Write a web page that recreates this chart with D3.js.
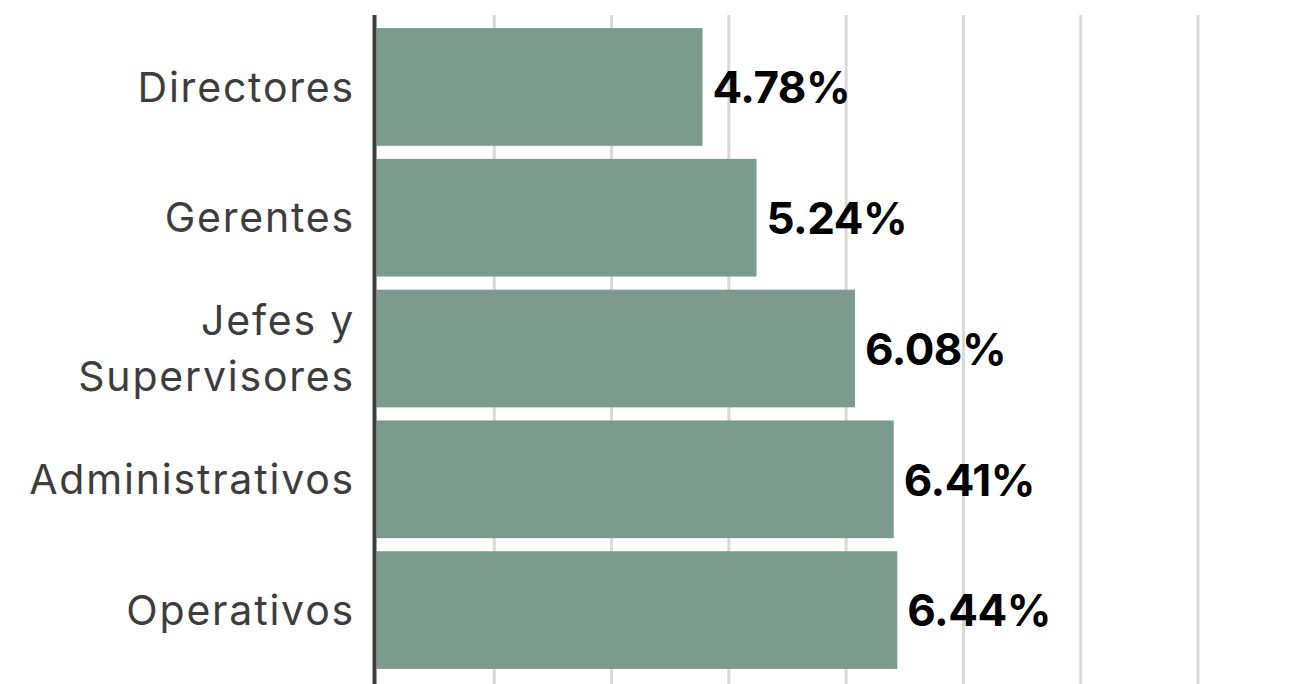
<!DOCTYPE html>
<html>
<head>
<meta charset="utf-8">
<script src="https://cdn.jsdelivr.net/npm/d3@7"></script>
<style>
  html, body { margin: 0; padding: 0; background: #ffffff; }
  svg { display: block; }
</style>
</head>
<body>
<svg id="chart" width="1298" height="684"></svg>
<script>
// Position levels and their rates (%)
const categories = ["Directores", "Gerentes", "Jefes y\nSupervisores", "Administrativos", "Operativos"];
const values = [4.78, 5.24, 6.08, 6.41, 6.44];
const gridTicks = [3, 4, 5, 6, 7, 8, 9];

const W = 1298, H = 684;
const svg = d3.select("#chart");

const x = d3.scaleLinear().domain([2, 9]).range([376.5, 1197.5]);
const y = d3.scaleBand().domain(categories).range([15, 682]).paddingInner(0.1).paddingOuter(0.1);

// vertical gridlines
const grid = svg.append("g")
  .attr("transform", `translate(0,${H})`)
  .call(d3.axisBottom(x).tickValues(gridTicks).tickSize(-(H - 15)).tickFormat(""));
grid.select(".domain").remove();
grid.selectAll(".tick line").attr("stroke", "#d9d9d9").attr("stroke-width", 3);

// bars
svg.append("g").selectAll("rect")
  .data(categories)
  .join("rect")
  .attr("x", x(2))
  .attr("y", d => y(d))
  .attr("width", (d, i) => x(values[i]) - x(2))
  .attr("height", y.bandwidth())
  .attr("fill", "#7b9b8f");

// left axis line
const yAxis = svg.append("g")
  .attr("transform", `translate(${x(2) - 2},0)`)
  .call(d3.axisLeft(y).tickSize(0).tickFormat(""));
yAxis.select(".domain").attr("stroke", "#3f3f3f").attr("stroke-width", 4).attr("d", `M0,15V${H}`);

// category labels
const lab = svg.append("g").selectAll("text")
  .data(categories)
  .join("text")
  .attr("text-anchor", "end")
  .attr("font-family", "Inter, 'Noto Sans', sans-serif")
  .attr("font-size", 41)
  .attr("letter-spacing", 1.8)
  .attr("fill", "#3d3d3d")
  .attr("transform", d => `translate(355,${y(d) + y.bandwidth() / 2})`);
lab.each(function(d) {
  const lines = d.split("\n");
  const lh = 56;
  const t = d3.select(this);
  lines.forEach((ln, k) => {
    t.append("tspan")
      .attr("x", 0)
      .attr("y", (k - (lines.length - 1) / 2) * lh)
      .attr("dy", "0.36em")
      .text(ln);
  });
});

// value labels
svg.append("g").selectAll("text")
  .data(categories)
  .join("text")
  .attr("x", (d, i) => x(values[i]) + 10)
  .attr("y", d => y(d) + y.bandwidth() / 2)
  .attr("dy", "0.37em")
  .attr("font-family", "Inter, 'Noto Sans', sans-serif")
  .attr("font-weight", 700)
  .attr("font-size", 44)
  .attr("letter-spacing", -0.5)
  .attr("fill", "#000000")
  .text((d, i) => values[i].toFixed(2) + "%");
</script>
</body>
</html>
